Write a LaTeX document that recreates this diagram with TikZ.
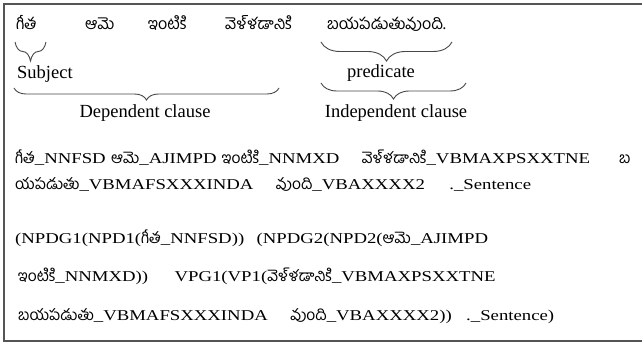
\documentclass[tikz,border=0pt]{standalone}
\usepackage{fontspec}
\setmainfont{Liberation Serif}
\newfontfamily\telfont[Script=Telugu]{Hind Guntur}
\newfontfamily\wideserif{Liberation Serif}[FakeStretch=1.25]
\usetikzlibrary{decorations.pathreplacing}
\definecolor{framegray}{RGB}{85,85,85}
\definecolor{bracegray}{RGB}{70,70,70}
\newcommand\tw[1]{{\telfont\fontsize{16}{18}\selectfont #1}}
\newcommand\twb[1]{{\telfont\fontsize{15.5}{17}\selectfont #1}}
\begin{document}
\begin{tikzpicture}[x=1pt,y=-1pt,
  lbl/.style={inner sep=0pt,anchor=base,font=\fontsize{18.5}{21}\selectfont},
  tword/.style={inner sep=0pt,anchor=base west},
  tagline/.style={inner sep=0pt,anchor=base west,font=\wideserif\fontsize{15}{17}\selectfont},
  bracedown/.style={draw=bracegray,line width=0.9pt,decorate,decoration={brace,mirror,amplitude=#1}}]
\useasboundingbox (0,0) rectangle (642,344);
\draw[framegray,line width=1.6pt] (650,4) -- (4,4) -- (4,341) -- (650,341);
% top row
\node[tword] (w1) at (16,30) {\tw{గీత}};
\node[tword] (w2) at (85,30) {\tw{ఆమె}};
\node[tword] (w3) at (148,30) {\tw{ఇంటికి}};
\node[tword] (w4) at (225,30) {\tw{వెళ్ళడానికి}};
\node[tword] (w5) at (327,30) {\tw{బయపడుతువుంది.}};
% braces
\coordinate (s1) at (15,42); \coordinate (s2) at (46,42);
\coordinate (d1) at (14,88); \coordinate (d2) at (279,88);
\coordinate (p1) at (321,42); \coordinate (p2) at (452,42);
\coordinate (i1) at (321,83); \coordinate (i2) at (466,83);
\draw[bracedown=19pt] (s1) -- (s2);
\draw[bracedown=12pt] (d1) -- (d2);
\draw[bracedown=19pt] (p1) -- (p2);
\draw[bracedown=16pt] (i1) -- (i2);
\node[lbl,anchor=base west] (subj) at (17,79) {Subject};
\node[lbl] (pred) at (381,78) {predicate};
\node[lbl] (dep) at (145,118) {Dependent clause};
\node[lbl] (ind) at (396,118) {Independent clause};
% tagged lines
\node[tagline] (a1) at (15,164) {\twb{గీత}\_NNFSD};
\node[tagline] (a2) at ([xshift=5pt]a1.base east) {\twb{ఆమె}\_AJIMPD};
\node[tagline] (a3) at ([xshift=5pt]a2.base east) {\twb{ఇంటికి}\_NNMXD};
\node[tagline] (a4) at ([xshift=22pt]a3.base east) {\twb{వెళ్ళడానికి}\_VBMAXPSXXTNE};
\node[tagline] (a5) at (619,164) {\twb{బ}};
\node[tagline] (b1) at (15,190) {\twb{యపడుతు}\_VBMAFSXXXINDA};
\node[tagline] (b2) at ([xshift=22pt]b1.base east) {\twb{వుంది}\_VBAXXXX2};
\node[tagline] (b3) at ([xshift=24pt]b2.base east) {.\_Sentence};
% bracketed lines
\node[tagline] (c1) at (15,244) {(NPDG1(NPD1(\twb{గీత}\_NNFSD))};
\node[tagline] (c2) at ([xshift=12pt]c1.base east) {(NPDG2(NPD2(\twb{ఆమె}\_AJIMPD};
\node[tagline] (d1n) at (18,282) {\twb{ఇంటికి}\_NNMXD))};
\node[tagline] (d2n) at ([xshift=26pt]d1n.base east) {VPG1(VP1(\twb{వెళ్ళడానికి}\_VBMAXPSXXTNE};
\node[tagline] (e1) at (18,320) {\twb{బయపడుతు}\_VBMAFSXXXINDA};
\node[tagline] (e2) at ([xshift=22pt]e1.base east) {\twb{వుంది}\_VBAXXXX2))};
\node[tagline] (e3) at ([xshift=14pt]e2.base east) {.\_Sentence)};
\end{tikzpicture}
\end{document}
